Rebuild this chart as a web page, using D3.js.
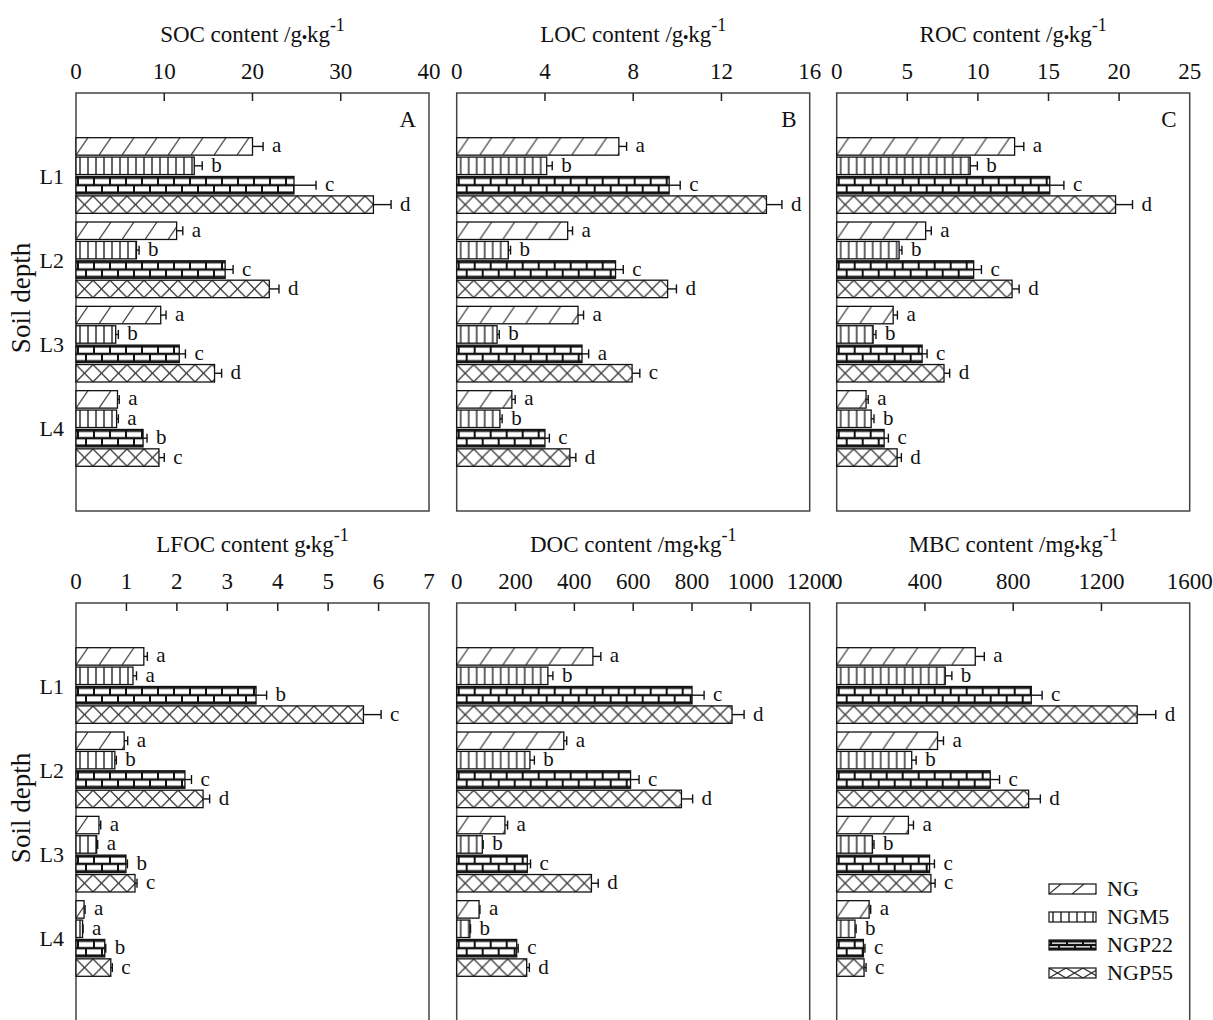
<!DOCTYPE html>
<html><head><meta charset="utf-8">
<script src="https://cdn.jsdelivr.net/npm/d3@7"></script>
<style>
body{margin:0;background:#fff}
text{font-family:"Liberation Serif","Times New Roman",serif;fill:#111}
</style>
</head><body><svg id="chart" width="1213" height="1020"></svg>
<script>
// ---------- data ----------
const depths = ["L1", "L2", "L3", "L4"];
const series = ["NG", "NGM5", "NGP22", "NGP55"];

// rows = depths, columns = series (NG, NGM5, NGP22, NGP55)
const socMean = [[20.0, 13.4, 24.7, 33.7], [11.4, 6.85, 16.9, 21.9], [9.6, 4.5, 11.7, 15.7], [4.7, 4.6, 7.6, 9.4]];
const socErr  = [[1.2, 0.9, 2.5, 2.0], [0.7, 0.3, 0.9, 1.1], [0.6, 0.3, 0.7, 0.8], [0.2, 0.2, 0.45, 0.6]];
const socSig  = [["a","b","c","d"], ["a","b","c","d"], ["a","b","c","d"], ["a","a","b","c"]];
const socTicks = [0, 10, 20, 30, 40];

const locMean = [[7.35, 4.08, 9.63, 14.04], [5.03, 2.34, 7.2, 9.56], [5.5, 1.83, 5.68, 7.95], [2.5, 1.96, 4.0, 5.13]];
const locErr  = [[0.35, 0.25, 0.5, 0.7], [0.22, 0.1, 0.35, 0.4], [0.25, 0.1, 0.3, 0.35], [0.15, 0.1, 0.2, 0.27]];
const locSig  = [["a","b","c","d"], ["a","b","c","d"], ["a","b","a","c"], ["a","b","c","d"]];
const locTicks = [0, 4, 8, 12, 16];

const rocMean = [[12.6, 9.46, 15.09, 19.75], [6.3, 4.42, 9.7, 12.42], [4.0, 2.58, 6.05, 7.6], [2.08, 2.44, 3.36, 4.28]];
const rocErr  = [[0.65, 0.5, 1.0, 1.2], [0.4, 0.2, 0.55, 0.5], [0.3, 0.2, 0.35, 0.4], [0.15, 0.2, 0.3, 0.3]];
const rocSig  = [["a","b","c","d"], ["a","b","c","d"], ["a","b","c","d"], ["a","b","c","d"]];
const rocTicks = [0, 5, 10, 15, 20, 25];

const lfocMean = [[1.345, 1.13, 3.57, 5.7], [0.955, 0.77, 2.16, 2.52], [0.455, 0.41, 0.99, 1.17], [0.16, 0.13, 0.57, 0.69]];
const lfocErr  = [[0.07, 0.07, 0.21, 0.35], [0.07, 0.03, 0.13, 0.13], [0.035, 0.02, 0.03, 0.04], [0.02, 0.01, 0.02, 0.03]];
const lfocSig  = [["a","a","b","c"], ["a","b","c","d"], ["a","a","b","c"], ["a","a","b","c"]];
const lfocTicks = [0, 1, 2, 3, 4, 5, 6, 7];

const docMean = [[463, 310, 800, 936], [364, 249, 591, 764], [164, 87, 240, 458], [76, 45, 204, 238]];
const docErr  = [[27, 17, 41, 41], [10, 15, 29, 38], [9, 3, 11, 23], [3, 2, 5, 9]];
const docSig  = [["a","b","c","d"], ["a","b","c","d"], ["a","b","c","d"], ["a","b","c","d"]];
const docTicks = [0, 200, 400, 600, 800, 1000, 1200];

const mbcMean = [[628, 492, 882, 1362], [457, 340, 696, 870], [325, 162, 421, 427], [147, 83, 121, 124]];
const mbcErr  = [[41, 30, 49, 84], [27, 20, 42, 53], [23, 7, 22, 19], [7, 5, 7, 9]];
const mbcSig  = [["a","b","c","d"], ["a","b","c","d"], ["a","b","c","c"], ["a","b","c","c"]];
const mbcTicks = [0, 400, 800, 1200, 1600];

const panels = [
  {title: ["SOC content /g", "kg"], mean: socMean, err: socErr, sig: socSig, ticks: socTicks, tag: "A", col: 0, row: 0},
  {title: ["LOC content /g", "kg"], mean: locMean, err: locErr, sig: locSig, ticks: locTicks, tag: "B", col: 1, row: 0},
  {title: ["ROC content /g", "kg"], mean: rocMean, err: rocErr, sig: rocSig, ticks: rocTicks, tag: "C", col: 2, row: 0},
  {title: ["LFOC content g", "kg"], mean: lfocMean, err: lfocErr, sig: lfocSig, ticks: lfocTicks, tag: "", col: 0, row: 1},
  {title: ["DOC content /mg", "kg"], mean: docMean, err: docErr, sig: docSig, ticks: docTicks, tag: "", col: 1, row: 1},
  {title: ["MBC content /mg", "kg"], mean: mbcMean, err: mbcErr, sig: mbcSig, ticks: mbcTicks, tag: "", col: 2, row: 1}
];

// ---------- layout ----------
const svg = d3.select("#chart");
const colX = [76, 456.7, 836.7];
const rowY = [93, 603];
const PW = 353, PH = 418;
const defs = svg.append("defs");

function addPatterns(key, h) {
  // NG: forward slashes
  let p = defs.append("pattern").attr("id", "NG" + key).attr("patternUnits", "userSpaceOnUse")
    .attr("width", 23).attr("height", h);
  p.append("rect").attr("width", 23).attr("height", h).attr("fill", "#fff");
  p.append("line").attr("x1", 0).attr("y1", h).attr("x2", 12).attr("y2", 0)
    .attr("stroke", "#333").attr("stroke-width", 1.2);
  // NGM5: vertical lines
  p = defs.append("pattern").attr("id", "NGM5" + key).attr("patternUnits", "userSpaceOnUse")
    .attr("width", 8).attr("height", h);
  p.append("rect").attr("width", 8).attr("height", h).attr("fill", "#fff");
  p.append("line").attr("x1", 4).attr("y1", 0).attr("x2", 4).attr("y2", h)
    .attr("stroke", "#222").attr("stroke-width", 1.4);
  // NGP22: bricks
  p = defs.append("pattern").attr("id", "NGP22" + key).attr("patternUnits", "userSpaceOnUse")
    .attr("width", 32).attr("height", h);
  p.append("rect").attr("width", 32).attr("height", h).attr("fill", "#fff");
  [1.3, h / 2, h - 1.3].forEach(y => p.append("line").attr("x1", 0).attr("x2", 32).attr("y1", y).attr("y2", y)
    .attr("stroke", "#111").attr("stroke-width", 2.4));
  [[2, 0, h / 2], [18, 0, h / 2], [10, h / 2, h], [26, h / 2, h]].forEach(d =>
    p.append("line").attr("x1", d[0]).attr("x2", d[0]).attr("y1", d[1]).attr("y2", d[2])
      .attr("stroke", "#111").attr("stroke-width", 2));
  // NGP55: crosshatch
  p = defs.append("pattern").attr("id", "NGP55" + key).attr("patternUnits", "userSpaceOnUse")
    .attr("width", 17).attr("height", h);
  p.append("rect").attr("width", 17).attr("height", h).attr("fill", "#fff");
  p.append("line").attr("x1", 0).attr("y1", 0).attr("x2", 17).attr("y2", h).attr("stroke", "#333").attr("stroke-width", 1.2);
  p.append("line").attr("x1", 0).attr("y1", h).attr("x2", 17).attr("y2", 0).attr("stroke", "#333").attr("stroke-width", 1.2);
}

let patternsMade = false;

panels.forEach(pn => {
  const x0 = colX[pn.col], top = rowY[pn.row];
  const xs = d3.scaleLinear().domain([pn.ticks[0], pn.ticks[pn.ticks.length - 1]]).range([x0, x0 + PW]);
  const ys = d3.scaleBand().domain(depths).range([top, top + PH]).paddingInner(0.103).paddingOuter(0.53);
  const yi = d3.scaleBand().domain(series).range([0, ys.bandwidth()]).paddingInner(0.1);
  const bh = yi.bandwidth();
  if (!patternsMade) { addPatterns("", bh); addPatterns("L", 10); patternsMade = true; }

  const g = svg.append("g");

  // title
  const t = g.append("text").attr("x", x0 + PW / 2).attr("y", top - 51)
    .attr("text-anchor", "middle").attr("font-size", 23);
  t.append("tspan").text(pn.title[0]);
  t.append("tspan").text("\u2022").attr("font-size", 14).attr("font-weight", "bold");
  t.append("tspan").text(pn.title[1]);
  t.append("tspan").text("-1").attr("font-size", 18).attr("dy", -11);

  // tick labels
  g.selectAll(".tl").data(pn.ticks).join("text")
    .attr("x", d => xs(d)).attr("y", top - 14).attr("text-anchor", "middle")
    .attr("font-size", 23).text(d => d);

  // frame
  g.append("rect").attr("x", x0).attr("y", top).attr("width", PW).attr("height", PH)
    .attr("fill", "none").attr("stroke", "#444").attr("stroke-width", 1.5);
  // inner ticks
  g.selectAll(".tk").data(pn.ticks.slice(1, -1)).join("line")
    .attr("x1", d => xs(d)).attr("x2", d => xs(d)).attr("y1", top).attr("y2", top + 8)
    .attr("stroke", "#222").attr("stroke-width", 1.5);

  // panel tag
  if (pn.tag) g.append("text").attr("x", x0 + PW - 13).attr("y", top + 34)
    .attr("text-anchor", "end").attr("font-size", 23).text(pn.tag);

  // depth labels (left column only)
  if (pn.col === 0) {
    g.selectAll(".dl").data(depths).join("text")
      .attr("x", x0 - 12).attr("y", d => ys(d) + ys.bandwidth() / 2 + 8)
      .attr("text-anchor", "end").attr("font-size", 22).text(d => d);
    g.append("text").attr("transform", `translate(30,${top + 205}) rotate(-90)`)
      .attr("text-anchor", "middle").attr("font-size", 27).text("Soil depth");
  }

  // bars
  depths.forEach((dp, i) => {
    series.forEach((s, j) => {
      const v = pn.mean[i][j], e = pn.err[i][j];
      const y = ys(dp) + yi(s), cy = y + bh / 2;
      const bg = g.append("g").attr("transform", `translate(${x0},${y})`);
      bg.append("rect").attr("x", 0).attr("y", 0).attr("width", xs(v) - x0).attr("height", bh)
        .attr("fill", `url(#${s})`).attr("stroke", "#111").attr("stroke-width", 1.3);
      // error bar
      g.append("line").attr("x1", xs(v)).attr("x2", xs(v + e)).attr("y1", cy).attr("y2", cy)
        .attr("stroke", "#111").attr("stroke-width", 1.4);
      g.append("line").attr("x1", xs(v + e)).attr("x2", xs(v + e)).attr("y1", cy - 4.5).attr("y2", cy + 4.5)
        .attr("stroke", "#111").attr("stroke-width", 1.4);
      g.append("text").attr("x", xs(v + e) + 9).attr("y", cy + 6).attr("font-size", 21).text(pn.sig[i][j]);
    });
  });
});

// legend (inside MBC panel)
const lg = svg.append("g").attr("transform", `translate(1049,${rowY[1] + 281})`);
series.forEach((s, j) => {
  const r = lg.append("g").attr("transform", `translate(0,${j * 28})`);
  r.append("rect").attr("width", 47).attr("height", 10).attr("fill", `url(#${s}L)`)
    .attr("stroke", "#111").attr("stroke-width", 1.2);
  r.append("text").attr("x", 58).attr("y", 12).attr("font-size", 22).text(s);
});
</script>
</body></html>
